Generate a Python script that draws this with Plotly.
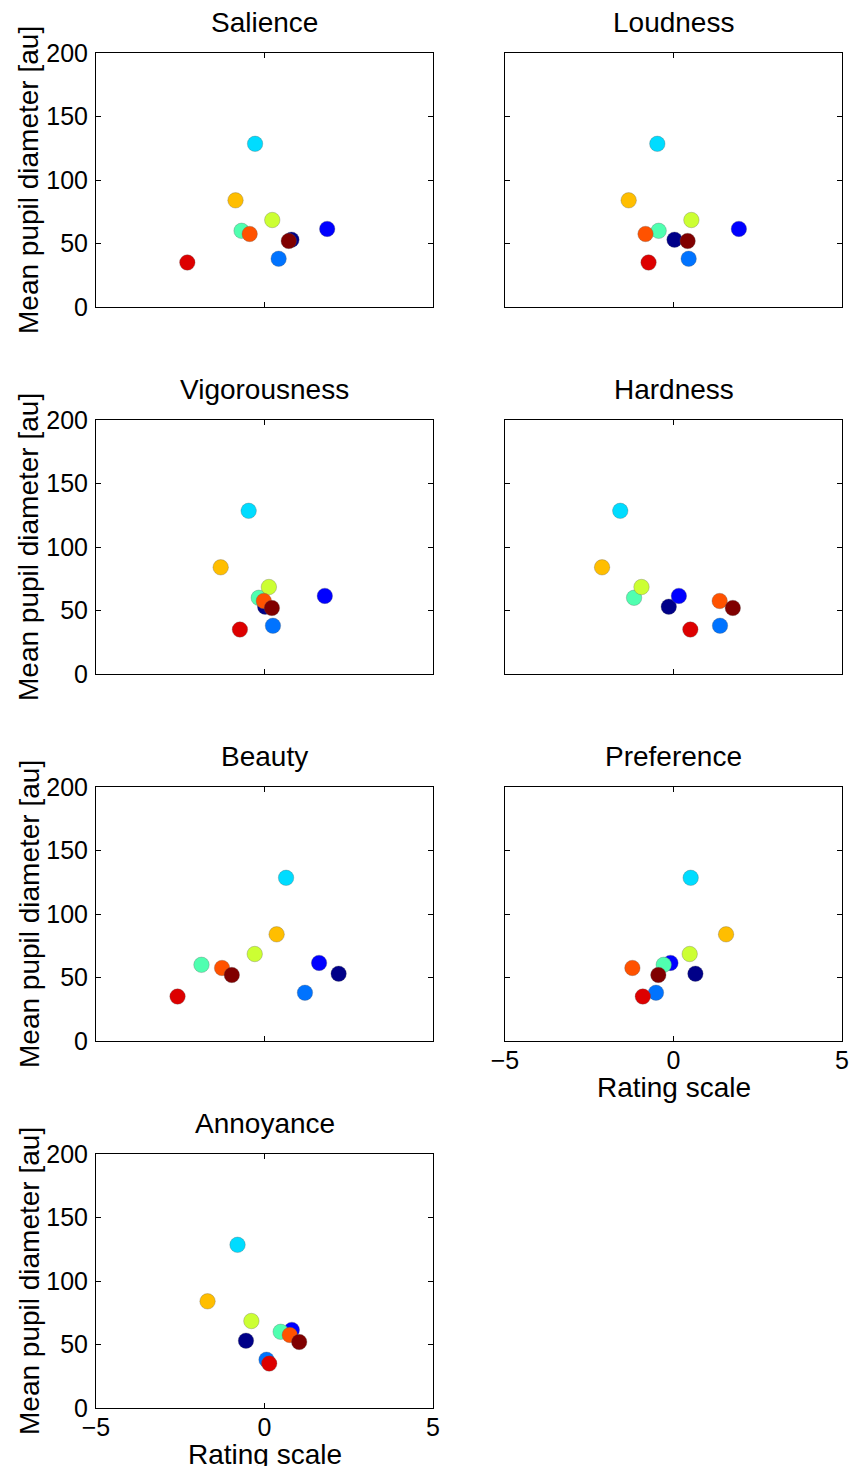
import plotly.graph_objects as go

# Sound stimuli, one colour each (jet-like palette)
stimuli = ["S1", "S2", "S3", "S4", "S5", "S6", "S7", "S8", "S9", "S10"]
colors = ["#000088", "#0000FF", "#0073FF", "#00DCFF", "#50FFB0",
          "#CCFF33", "#FFBE00", "#FF5200", "#DD0000", "#800000"]

# Mean pupil diameter per stimulus [au]
pupil = [53, 61.5, 38, 128.5, 60, 68.5, 84, 57.5, 35, 52]

# Mean ratings per attribute (same stimulus order)
panels = ["Salience", "Loudness", "Vigorousness", "Hardness",
          "Beauty", "Preference", "Annoyance"]
salience = [0.80, 1.86, 0.42, -0.28, -0.68, 0.23, -0.86, -0.44, -2.29, 0.72]
loudness = [0.03, 1.94, 0.45, -0.48, -0.44, 0.53, -1.33, -0.83, -0.74, 0.42]
vigorousness = [0.02, 1.79, 0.25, -0.47, -0.17, 0.13, -1.30, -0.02, -0.73, 0.22]
hardness = [-0.14, 0.16, 1.38, -1.58, -1.17, -0.95, -2.12, 1.37, 0.50, 1.76]
beauty = [2.20, 1.62, 1.20, 0.64, -1.87, -0.29, 0.36, -1.26, -2.58, -0.97]
preference = [0.65, -0.09, -0.52, 0.51, -0.29, 0.48, 1.56, -1.22, -0.91, -0.45]
annoyance = [-0.55, 0.81, 0.06, -0.80, 0.48, -0.39, -1.69, 0.75, 0.14, 1.03]
ratings = [salience, loudness, vigorousness, hardness, beauty, preference, annoyance]

W, H = 850, 1466
col_x = [(96, 433), (505, 842)]
row_y = [(53, 307), (420, 674), (787, 1041), (1154, 1408)]

FONT = "Liberation Sans, Arial, Helvetica, sans-serif"
TICK_SIZE = 25
LABEL_SIZE = 28

fig = go.Figure()
annotations = []

for k, (name, xs) in enumerate(zip(panels, ratings)):
    r, c = divmod(k, 2)
    ax = "" if k == 0 else str(k + 1)
    x0, x1 = col_x[c]
    y0, y1 = row_y[r]
    show_x = name in ("Preference", "Annoyance")
    show_y = c == 0

    fig.add_trace(go.Scatter(
        x=xs, y=pupil,
        mode="markers",
        marker=dict(size=15.5, color=colors,
                    line=dict(width=0.6, color="rgba(90,90,90,0.5)")),
        xaxis="x" + ax, yaxis="y" + ax,
        text=stimuli,
        showlegend=False,
    ))

    common = dict(showgrid=False, zeroline=False, showline=True, mirror="ticks",
                  linecolor="black", linewidth=1, ticks="inside", ticklen=5,
                  tickcolor="black", automargin=False,
                  tickfont=dict(family=FONT, size=TICK_SIZE, color="black"))
    fig.layout["xaxis" + ax] = dict(
        domain=[x0 / W, x1 / W], range=[-5, 5], tickvals=[-5, 0, 5],
        ticktext=["\u22125", "0", "5"], showticklabels=show_x,
        anchor="y" + ax, ticklabelstandoff=-3,
        **common)
    fig.layout["yaxis" + ax] = dict(
        domain=[1 - y1 / H, 1 - y0 / H], range=[0, 200],
        tickvals=[0, 50, 100, 150, 200], showticklabels=show_y,
        anchor="x" + ax, ticklabelstandoff=2,
        **common)

    # panel title
    annotations.append(dict(
        text=name, x=(x0 + x1) / 2 / W, y=1 - (y0 - 13) / H,
        xref="paper", yref="paper", xanchor="center", yanchor="bottom",
        showarrow=False, font=dict(family=FONT, size=LABEL_SIZE, color="black")))
    # y-axis label (left column)
    if show_y:
        annotations.append(dict(
            text="Mean pupil diameter [au]", x=29 / W, y=1 - ((y0 + y1) / 2) / H,
            xref="paper", yref="paper", xanchor="center", yanchor="middle",
            textangle=-90, showarrow=False,
            font=dict(family=FONT, size=LABEL_SIZE, color="black")))
    # x-axis label
    if show_x:
        annotations.append(dict(
            text="Rating scale", x=(x0 + x1) / 2 / W, y=1 - (y1 + 46) / H,
            xref="paper", yref="paper", xanchor="center", yanchor="middle",
            showarrow=False, font=dict(family=FONT, size=LABEL_SIZE, color="black")))

fig.update_layout(
    width=W, height=H,
    margin=dict(l=0, r=0, t=0, b=0),
    paper_bgcolor="white", plot_bgcolor="white",
    annotations=annotations,
)

fig.write_html("out.html")
